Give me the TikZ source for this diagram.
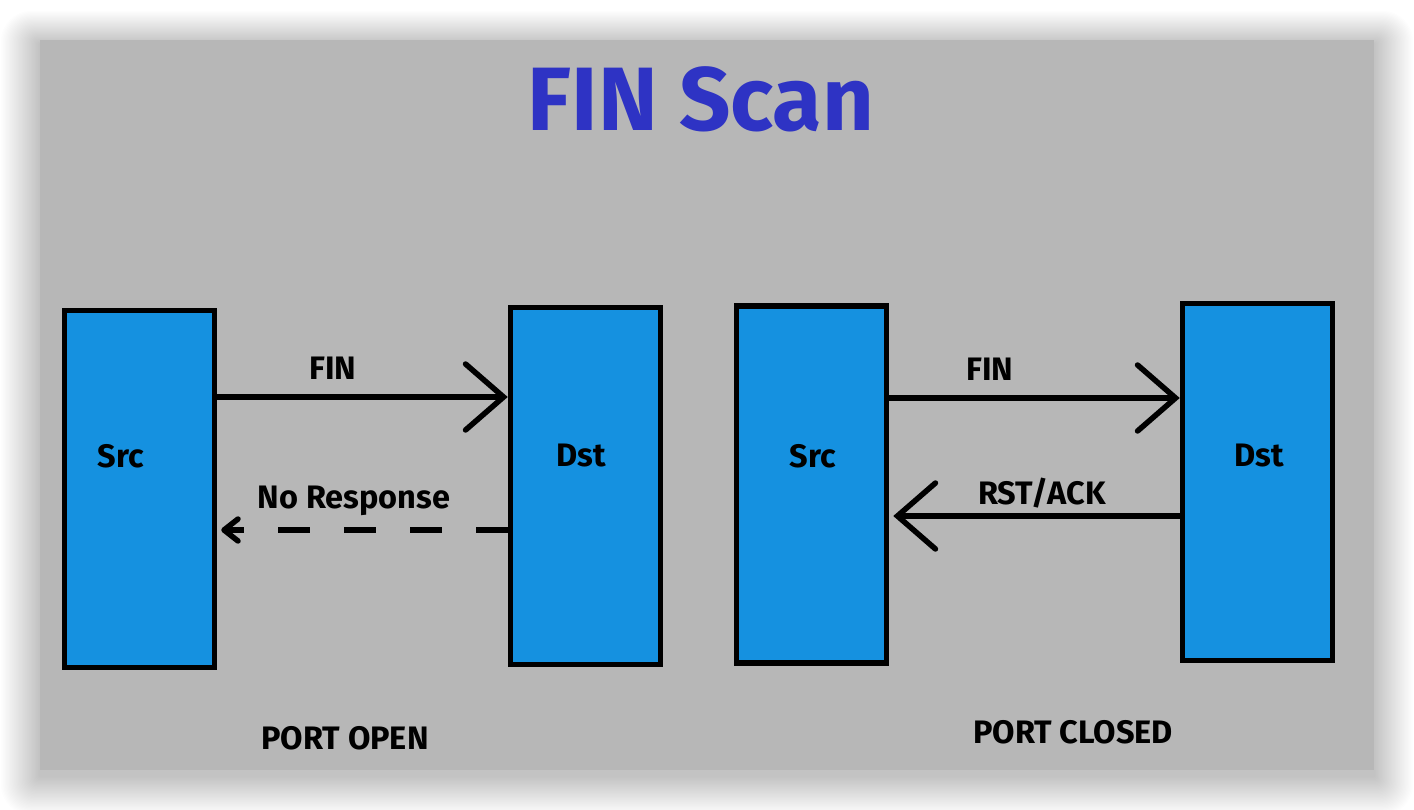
\documentclass[tikz,border=0pt]{standalone}
\usepackage{fontspec}
\setmainfont{Fira Sans}
\usetikzlibrary{arrows.meta}
\definecolor{panel}{HTML}{B7B7B7}
\definecolor{boxblue}{HTML}{1591E0}
\definecolor{titleblue}{HTML}{2E33C4}
\tikzset{
  hostbox/.style={draw=black, line width=5.5pt, fill=boxblue, minimum width=150pt, minimum height=357pt, inner sep=0pt},
  lbl/.style={font=\fontsize{32.5}{38}\selectfont\bfseries, inner sep=0pt},
  bigarrow/.style={line width=5.5pt, line cap=round, -{Straight Barb[length=38pt,width=66pt,line width=5.5pt,line cap=round]}},
  smallarrow/.style={line width=5.5pt, dash pattern=on 32pt off 34pt, -{Straight Barb[length=14pt,width=22pt,line width=5.5pt,line cap=round,line join=round]}}
}
\begin{document}
\begin{tikzpicture}[x=1pt,y=-1pt]
\useasboundingbox (0,0) rectangle (1414,810);
\fill[white] (0,0) rectangle (1414,810);
% shadow
\foreach \i in {1,...,30}{
  \fill[black, opacity=0.007, rounded corners=\i pt] (40-\i*1.3,40-\i*1.1+4) rectangle (1374+\i*1.3,770+\i*1.3+6);
}
\fill[panel] (40,40) rectangle (1374,770);
% title
\node[font=\fontsize{90}{100}\selectfont\bfseries, text=titleblue, inner sep=0pt] (title) at (701,99) {FIN Scan};
% boxes
\node[hostbox] (lsrc) at (139.5,489) {};
\node[hostbox] (ldst) at (585.5,486) {};
\node[hostbox] (rsrc) at (811.5,484.5) {};
\node[hostbox] (rdst) at (1257.5,482) {};
\node[lbl] (lsrct) at (121,456) {Src};
\node[lbl] (ldstt) at (581,456) {Dst};
\node[lbl] (rsrct) at (813,456) {Src};
\node[lbl] (rdstt) at (1259,456) {Dst};
% left arrows
\draw[bigarrow] (lsrc.east |- 0,397) -- (ldst.west |- 0,397);
\node[lbl] (lfin) at (333,368) {FIN};
\draw[smallarrow] (ldst.west |- 0,530) -- ([xshift=4pt]lsrc.east |- 0,530);
\node[lbl] (lno) at (354,501) {No Response};
% right arrows
\draw[bigarrow] (rsrc.east |- 0,398) -- (rdst.west |- 0,398);
\node[lbl] (rfin) at (990,369) {FIN};
\draw[bigarrow] (rdst.west |- 0,516) -- ([xshift=4pt]rsrc.east |- 0,516);
\node[lbl] (rrst) at (1042,493) {RST/ACK};
% captions
\node[lbl] (popen) at (345,738) {PORT OPEN};
\node[lbl] (pclosed) at (1073,732) {PORT CLOSED};
\end{tikzpicture}
\end{document}
